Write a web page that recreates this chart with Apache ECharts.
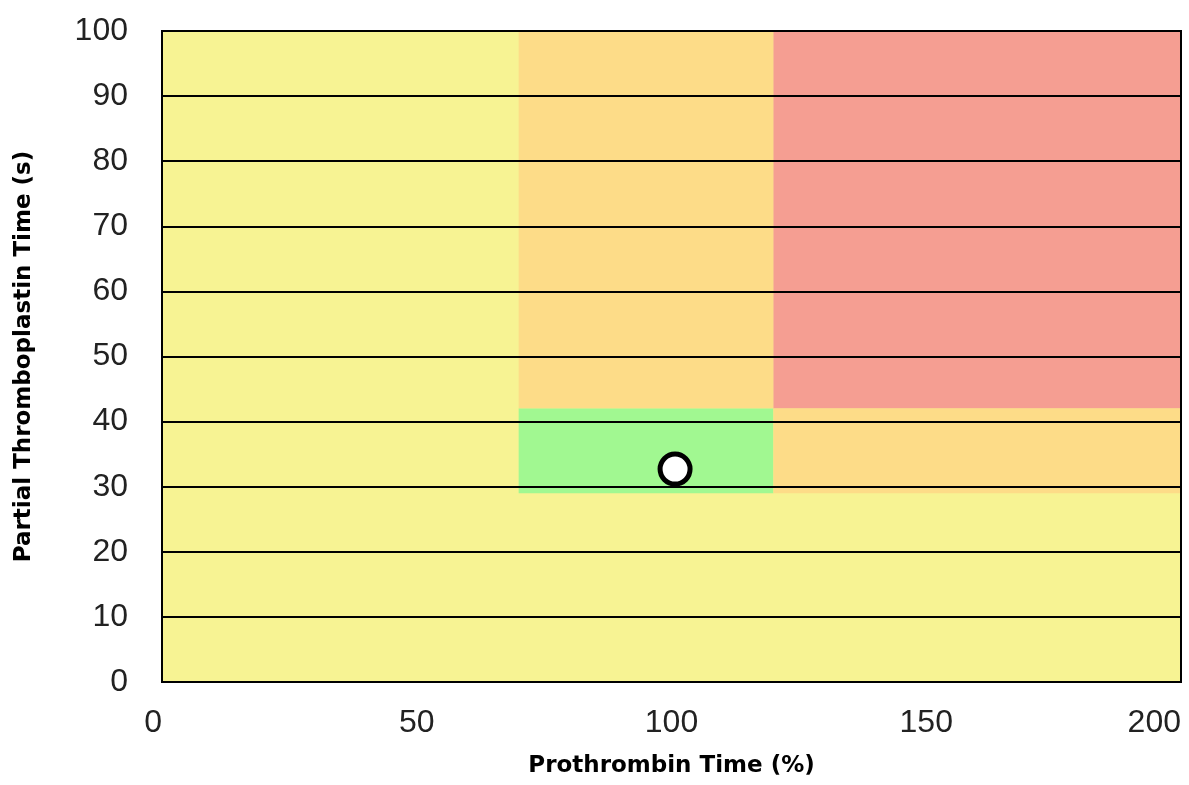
<!DOCTYPE html>
<html>
<head>
<meta charset="utf-8">
<script src="https://cdn.jsdelivr.net/npm/echarts@6/dist/echarts.min.js"></script>
<style>html,body{margin:0;padding:0;background:#fff;}#c{width:1189px;height:785px;}</style>
</head>
<body>
<div id="c"></div>
<script>
// Zones: [x0, x1, y0, y1] and colours
const zoneX0 = [0, 70, 70, 120, 120];
const zoneX1 = [200, 120, 120, 200, 200];
const zoneY0 = [0, 42, 29, 42, 29];
const zoneY1 = [100, 100, 42, 100, 42];
const zoneColor = ['#F7F393', '#FDDC88', '#A1F891', '#F59E92', '#FDDC88'];
// Patient point
const pointX = [100.7];
const pointY = [32.7];
const xTicks = [0, 50, 100, 150, 200];
const yTicks = [0, 10, 20, 30, 40, 50, 60, 70, 80, 90, 100];

const zoneData = zoneX0.map((x0, i) => [x0, zoneX1[i], zoneY0[i], zoneY1[i], i]);

const chart = echarts.init(document.getElementById('c'));
chart.setOption({
  animation: false,
  grid: { left: 162, right: 8, top: 31, bottom: 103, show: true, borderColor: '#000', borderWidth: 2, backgroundColor: 'transparent', z: 6 },
  xAxis: {
    type: 'value', min: 0, max: 200, interval: 50,
    name: 'Prothrombin Time (%)', nameLocation: 'middle', nameGap: 73,
    nameTextStyle: { fontFamily: 'DejaVu Sans', fontWeight: 'bold', fontSize: 23, color: '#000' },
    axisLine: { show: true, lineStyle: { color: '#000', width: 2 } },
    axisTick: { show: false },
    splitLine: { show: false },
    axisLabel: { fontFamily: 'Liberation Sans', fontSize: 32, color: '#222', margin: 25, alignMinLabel: 'right', alignMaxLabel: 'right',
      formatter: function (v) { return xTicks.indexOf(v) >= 0 ? String(v) : ''; } },
    z: 5
  },
  yAxis: {
    type: 'value', min: 0, max: 100, interval: 10,
    name: 'Partial Thromboplastin Time (s)', nameLocation: 'middle', nameGap: 126,
    nameTextStyle: { fontFamily: 'DejaVu Sans', fontWeight: 'bold', fontSize: 23, color: '#000' },
    axisLine: { show: true, lineStyle: { color: '#000', width: 2 } },
    axisTick: { show: false },
    splitLine: { show: true, lineStyle: { color: '#000', width: 2 } },
    axisLabel: { fontFamily: 'Liberation Sans', fontSize: 32, color: '#222', margin: 34,
      formatter: function (v) { return yTicks.indexOf(v) >= 0 ? String(v) : ''; } },
    z: 5
  },
  series: [
    {
      type: 'custom',
      z: 1,
      silent: true,
      data: zoneData,
      renderItem: function (params, api) {
        const p0 = api.coord([api.value(0), api.value(3)]);
        const p1 = api.coord([api.value(1), api.value(2)]);
        return {
          type: 'rect',
          shape: { x: p0[0], y: p0[1], width: p1[0] - p0[0], height: p1[1] - p0[1] },
          style: { fill: zoneColor[api.value(4)] }
        };
      },
      encode: { x: [0, 1], y: [2, 3] }
    },
    {
      type: 'scatter',
      z: 10,
      symbol: 'circle',
      symbolSize: 30,
      itemStyle: { color: '#fff', borderColor: '#000', borderWidth: 5, opacity: 1 },
      data: pointX.map((x, i) => [x, pointY[i]])
    }
  ]
});
</script>
</body>
</html>
